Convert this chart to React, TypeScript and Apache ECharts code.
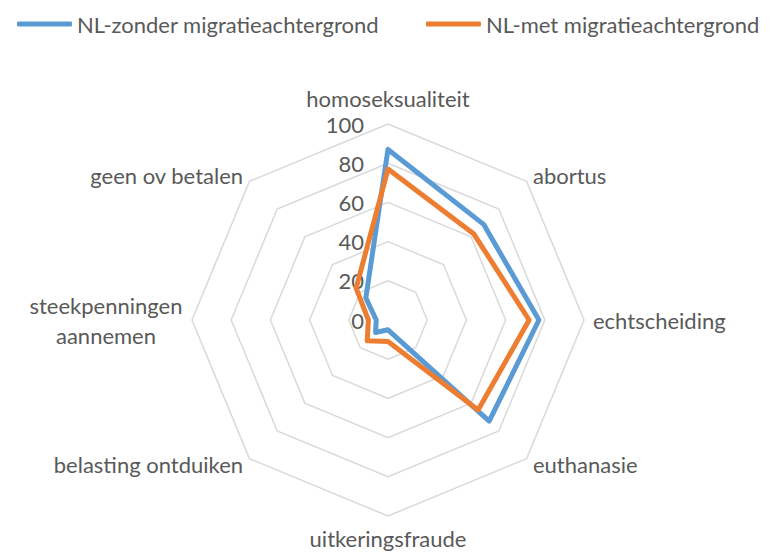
import React, { useEffect, useRef } from "react";
import * as echarts from "echarts";

// Categories in clockwise order starting at the top
const categories = [
  "homoseksualiteit",
  "abortus",
  "echtscheiding",
  "euthanasie",
  "uitkeringsfraude",
  "belasting ontduiken",
  "steekpenningen\naannemen",
  "geen ov betalen",
];
const seriesNames = ["NL-zonder migratieachtergrond", "NL-met migratieachtergrond"];
const zonderValues = [87, 69, 77, 73, 5, 9, 6, 16];
const metValues = [77, 62, 72, 65, 11, 15, 10, 23];
const axisMax = 100;
const axisInterval = 20;

const FONT = "Lato";
const TEXT = "#595959";
const FS = 22;

export default function App() {
  const ref = useRef<HTMLDivElement>(null);
  useEffect(() => {
    if (!ref.current) return;
    const chart = echarts.init(ref.current, null, { renderer: "svg" });
    // ECharts places indicators counter-clockwise: reorder
    const order = [0, 7, 6, 5, 4, 3, 2, 1];
    const indicator = order.map((i, k) => {
      const ind: any = { name: categories[i], min: 0, max: axisMax };
      if (k === 0) {
        ind.axisLabel = {
          show: true,
          margin: 24,
          color: TEXT,
          fontFamily: FONT,
          fontSize: FS,
          formatter: (v: number) => String(v),
        };
      }
      if (categories[i].indexOf("\n") >= 0) {
        ind.nameGap = 86;
        ind.nameTextStyle = { align: "center" };
      }
      if (i === 4) ind.nameGap = 7;
      return ind;
    });
    chart.setOption({
      animation: false,
      color: ["#5B9BD5", "#ED7D31"],
      legend: {
        data: seriesNames,
        left: 12,
        top: 8,
        itemWidth: 55,
        itemHeight: 5,
        itemGap: 47,
        icon: "roundRect",
        textStyle: { color: TEXT, fontFamily: FONT, fontSize: FS },
      },
      radar: {
        center: [388, 320],
        radius: 196,
        startAngle: 90,
        shape: "polygon",
        splitNumber: axisMax / axisInterval,
        nameGap: 9,
        axisName: { color: TEXT, fontFamily: FONT, fontSize: FS, lineHeight: 30 },
        axisLine: { show: false },
        axisTick: { show: false },
        axisLabel: { show: false },
        splitLine: { lineStyle: { color: "#d9d9d9", width: 1.5 } },
        splitArea: { show: false },
        indicator,
      },
      series: [
        {
          type: "radar",
          symbol: "none",
          data: [
            {
              name: seriesNames[0],
              value: order.map((i) => zonderValues[i]),
              lineStyle: { width: 5, color: "#5B9BD5", join: "round", cap: "round" },
              itemStyle: { color: "#5B9BD5" },
            },
            {
              name: seriesNames[1],
              value: order.map((i) => metValues[i]),
              lineStyle: { width: 5, color: "#ED7D31", join: "round", cap: "round" },
              itemStyle: { color: "#ED7D31" },
            },
          ],
        },
      ],
    });
    return () => chart.dispose();
  }, []);
  return (
    <div
      ref={ref}
      style={{ position: "absolute", left: 0, top: 0, width: 775, height: 552 }}
    />
  );
}
